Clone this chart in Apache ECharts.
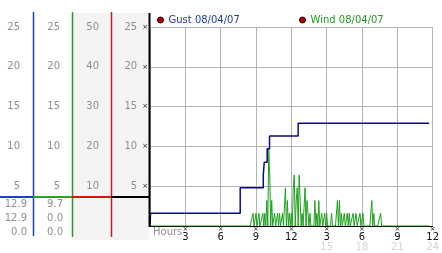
<!DOCTYPE html>
<html><head><meta charset="utf-8">
<script src="https://cdn.jsdelivr.net/npm/echarts@6/dist/echarts.min.js"></script>
<style>html,body{margin:0;padding:0;background:#fff}#c{width:442px;height:253px}</style>
</head><body><div id="c"></div>
<script>
// ---- data ----
const hourTicks   = [0, 3, 6, 9, 12, 15, 18, 21, 24];
const hourLabels  = ['', '3', '6', '9', '12', '3', '6', '9', '12'];
const hourLabels2 = ['', '', '', '', '', '15', '18', '21', '24'];
const hourAxisName = 'Hours';
const speedLabels = ['', '5', '10', '15', '20', '25'];
const altLabels   = ['', '10', '20', '30', '40', '50'];
const gustTimes   = [0, 0.05, 7.66, 9.62, 9.7, 9.95, 10.15, 12.58, 23.7];
const gustValues  = [0, 1.6, 4.8, 6.4, 8.0, 9.7, 11.3, 12.9, 12.9];
const windLeadTimes  = [0];          // calm before the samples
const windLeadValues = [0];
const windStartHour = 8.5;           // first 5-minute sample
const windSamples = [
  0,0,0,1.6,0,0,1.6,0,0,1.6,
  0,0,0,1.6,0,1.6,0,3.2,0,9.7,
  6.4,0,3.2,0,0,1.6,0,0,1.6,0,
  1.6,0,0,1.6,0,0,4.8,0,3.2,0,
  1.6,0,1.6,0,4.8,6.4,0,3.2,4.8,0,
  6.4,3.2,0,1.6,0,0,4.8,0,3.2,1.6,
  0,1.6,0,0,0,0,3.2,0,1.6,0,
  3.2,0,0,1.6,0,0,1.6,0,1.6,0,
  0,0,0,1.6,0,0,0,0,0,3.2,
  0,3.2,0,1.6,0,0,1.6,0,0,1.6,
  0,1.6,0,0,0,1.6,0,0,1.6,0,
  0,0,1.6,0,0,1.6,0,0,0,0,
  0,0,0,0,3.2,0,1.6,0,0,0,
  0,0,0,1.6,0
];
const windTailTimes  = [23.7];
const windTailValues = [0];
const gustStats = ['12.9', '12.9', '0.0'];
const windStats = ['9.7', '0.0', '0.0'];
const gustName = 'Gust 08/04/07';
const windName = 'Wind 08/04/07';

// ---- build ----
const gustData = gustTimes.map((t, i) => [t, gustValues[i]]);
const windData = windLeadTimes.map((t, i) => [t, windLeadValues[i]])
  .concat(windSamples.map((v, i) => [windStartHour + i * 5 / 60, v]))
  .concat(windTailTimes.map((t, i) => [t, windTailValues[i]]));

const FONT = 'DejaVu Sans';
const GRAY = '#8f8f8f';

function yAx(offset, max, labels, margin, main) {
  return {
    type: 'value', position: 'left', offset: offset, min: 0, max: max, interval: max / 5,
    axisLine: { show: false }, axisTick: { show: false },
    splitLine: { show: !!main, lineStyle: { color: '#b4b4b4', width: 1 } },
    axisLabel: {
      margin: margin, fontFamily: FONT, fontSize: 10, color: GRAY,
      formatter: function (v) {
        const s = labels[Math.round(v / (max / 5))];
        if (!s) return '';
        return main ? '{v|' + s + '}{m|×}' : s;
      },
      rich: main ? {
        v: { fontFamily: FONT, fontSize: 10, color: GRAY },
        m: { fontFamily: FONT, fontSize: 7, color: '#222', padding: [0, 0, 0, 5] }
      } : undefined
    }
  };
}

const statText = [];
[gustStats, windStats].forEach((arr, c) => {
  arr.forEach((s, r) => {
    statText.push({
      type: 'text', x: c === 0 ? 27 : 63, y: 204 + r * 14,
      style: { text: s, fill: GRAY, font: '10px "DejaVu Sans"', align: 'right', verticalAlign: 'middle' }
    });
  });
});

function vline(x, y1, y2, color, w) {
  return { type: 'line', shape: { x1: x, y1: y1, x2: x, y2: y2 }, style: { stroke: color, lineWidth: w }, z: 5 };
}
function hline(x1, x2, y, color) {
  return { type: 'line', shape: { x1: x1, y1: y, x2: x2, y2: y }, style: { stroke: color, lineWidth: 2 }, z: 5 };
}
function legendFor(name, left, textColor) {
  return { left: left, top: 15, padding: 0, icon: 'circle', itemWidth: 6, itemHeight: 6, selectedMode: false,
    data: [{ name: name, itemStyle: { color: '#b00000', borderColor: '#300', borderWidth: 1 },
             textStyle: { color: textColor } }],
    textStyle: { fontFamily: FONT, fontSize: 10 } };
}

const chart = echarts.init(document.getElementById('c'), null, { renderer: 'canvas' });
chart.setOption({
  animation: false,
  backgroundColor: '#fff',
  grid: { left: 150, right: 4, top: 27, bottom: 27, containLabel: false },
  legend: [ legendFor(gustName, 157, '#1f3aa8'), legendFor(windName, 299, '#1f9a1f') ],
  xAxis: {
    type: 'value', min: 0, max: 24, interval: 3,
    axisLine: { show: true, lineStyle: { color: '#000', width: 1 } },
    axisTick: { show: false },
    splitLine: { show: true, lineStyle: { color: '#b4b4b4', width: 1 } },
    axisLabel: {
      margin: 1, showMinLabel: true, showMaxLabel: true,
      formatter: function (v) {
        const i = hourTicks.indexOf(v);
        if (i <= 0) return '';
        let s = '{m|×}\n{v|' + hourLabels[i] + '}';
        s += '\n{f|' + (hourLabels2[i] || ' ') + '}';
        return s;
      },
      rich: {
        m: { fontFamily: FONT, fontSize: 7, color: '#222', lineHeight: 5 },
        v: { fontFamily: FONT, fontSize: 10, color: '#111', lineHeight: 10 },
        f: { fontFamily: FONT, fontSize: 10, color: '#d4d4d4', lineHeight: 10 }
      }
    }
  },
  yAxis: [
    yAx(0, 25, speedLabels, 2, true),
    yAx(39, 50, altLabels, 12, false),
    yAx(78, 25, speedLabels, 12, false),
    yAx(117, 25, speedLabels, 13, false)
  ],
  series: [
    { name: windName, type: 'line', data: windData, yAxisIndex: 0, symbol: 'none',
      lineStyle: { color: '#1fa01f', width: 1 }, itemStyle: { color: '#1fa01f' }, z: 3 },
    { name: gustName, type: 'line', data: gustData, yAxisIndex: 0, symbol: 'none', step: 'end',
      lineStyle: { color: '#0b0b80', width: 1.5 }, itemStyle: { color: '#0b0b80' }, z: 4 }
  ],
  graphic: [
    { type: 'rect', shape: { x: 72, y: 13, width: 77, height: 227 }, style: { fill: '#f4f4f4' }, z: -10 },
    vline(33.5, 12, 236, '#1a3fb0', 1.5),
    vline(72.5, 12, 237, '#2a9a2a', 1.5),
    vline(111.5, 12, 237, '#c02020', 1.5),
    vline(149.5, 13, 227, '#000', 2),
    hline(0, 33, 197, '#1a3fd0'),
    hline(33, 72, 197, '#2aa02a'),
    hline(72, 111, 197, '#e01010'),
    hline(111, 149, 197, '#000'),
    { type: 'text', x: 153, y: 232,
      style: { text: hourAxisName, fill: GRAY, font: '10px "DejaVu Sans"', align: 'left', verticalAlign: 'middle' } }
  ].concat(statText)
});
</script>
</body></html>
